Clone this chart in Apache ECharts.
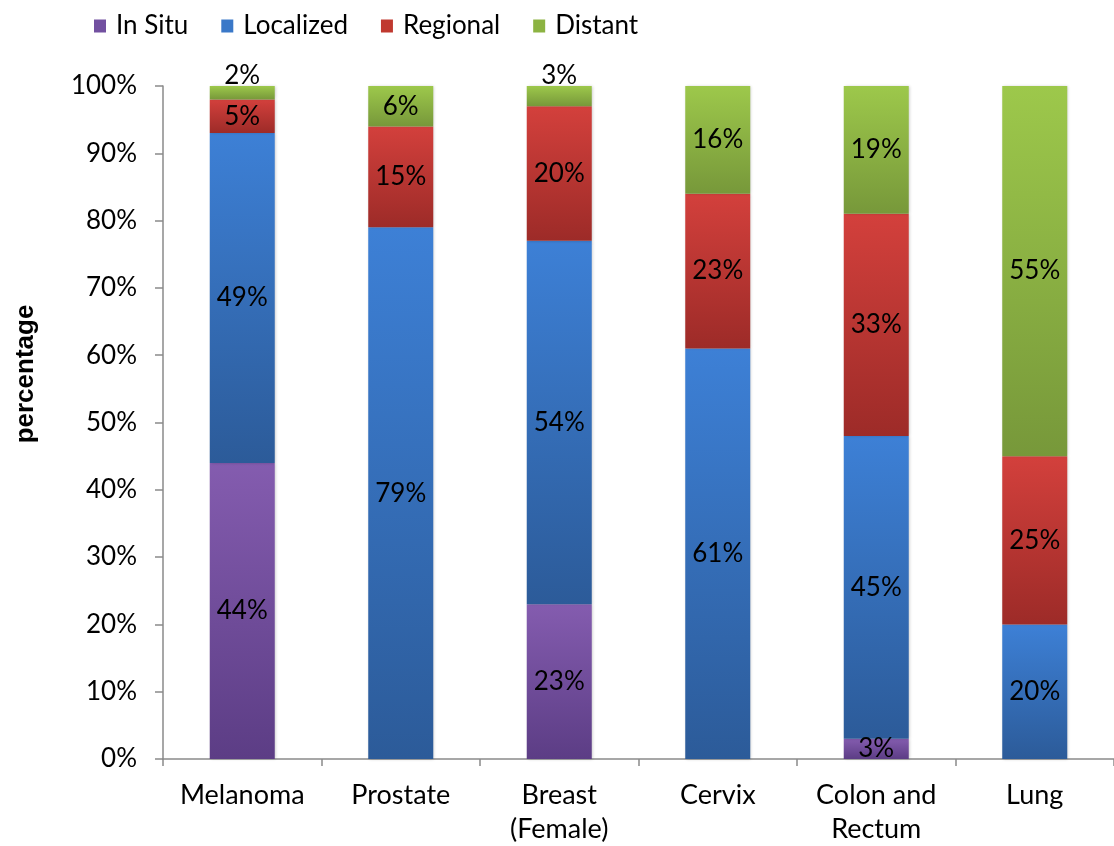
<!DOCTYPE html>
<html>
<head>
<meta charset="utf-8">
<title>Stage at diagnosis by cancer site</title>
<script src="https://cdn.jsdelivr.net/npm/echarts@6/dist/echarts.min.js"></script>
<style>
  html, body { margin: 0; padding: 0; background: #ffffff; }
  #chart { width: 1114px; height: 846px; }
</style>
</head>
<body>
<div id="chart"></div>
<script>
// Cancer sites along the x axis
const categories = ['Melanoma', 'Prostate', 'Breast\n(Female)', 'Cervix', 'Colon and\nRectum', 'Lung'];

// Share of cases by stage at diagnosis (percent)
const inSitu    = [44, 0, 23, 0, 3, 0];
const localized = [49, 79, 54, 61, 45, 20];
const regional  = [5, 15, 20, 23, 33, 25];
const distant   = [2, 6, 3, 16, 19, 55];

// Y axis tick values
const yTicks = [0, 10, 20, 30, 40, 50, 60, 70, 80, 90, 100];

const FONT = 'Lato, "Noto Sans", sans-serif';

// Vertical gradient per segment: lighter on top, darker at the bottom
function grad(top, bottom) {
  return new echarts.graphic.LinearGradient(0, 0, 0, 1, [
    { offset: 0, color: top },
    { offset: 1, color: bottom }
  ]);
}

const stages = [
  { name: 'In Situ',   data: inSitu,    top: '#845caf', bottom: '#5c3d85', legend: '#7250a0' },
  { name: 'Localized', data: localized, top: '#3d80d6', bottom: '#2c5b99', legend: '#3a78c8' },
  { name: 'Regional',  data: regional,  top: '#d3403c', bottom: '#9d2b28', legend: '#c0392f' },
  { name: 'Distant',   data: distant,   top: '#9dc84b', bottom: '#77983a', legend: '#8cb342' }
];

const series = stages.map((s, si) => ({
  name: s.name,
  type: 'bar',
  stack: 'total',
  barWidth: 65,
  itemStyle: {
    color: grad(s.top, s.bottom),
    shadowColor: 'rgba(0,0,0,0.22)',
    shadowBlur: 3,
    shadowOffsetX: 1
  },
  label: {
    show: true,
    position: 'inside',
    color: '#000',
    fontFamily: FONT,
    fontSize: 26,
    formatter: p => p.value + '%'
  },
  // Thin top segments carry their label just above the bar
  data: s.data.map(v => {
    if (v === 0) return { value: v, label: { show: false } };
    if (si === stages.length - 1 && v < 4) return { value: v, label: { position: 'top', distance: -3 } };
    return v;
  })
}));

const chart = echarts.init(document.getElementById('chart'), null, { renderer: 'canvas' });

chart.setOption({
  animation: false,
  backgroundColor: '#ffffff',
  color: stages.map(s => s.legend),
  legend: {
    left: 89,
    top: 8,
    itemWidth: 12,
    itemHeight: 13,
    itemGap: 33,
    icon: 'rect',
    textStyle: { fontFamily: FONT, fontSize: 26, color: '#000', padding: [0, 0, 0, 5] },
    data: stages.map(s => ({ name: s.name, itemStyle: { color: s.legend } }))
  },
  grid: { left: 163, top: 86, width: 960, height: 675, containLabel: false },
  xAxis: {
    type: 'category',
    data: categories,
    axisLine: { lineStyle: { color: '#8a8a8a', width: 1.5 } },
    axisTick: { show: true, length: 7, lineStyle: { color: '#8a8a8a', width: 1.5 } },
    axisLabel: {
      color: '#000',
      fontFamily: FONT,
      fontSize: 27,
      lineHeight: 34,
      margin: 19,
      interval: 0
    }
  },
  yAxis: {
    type: 'value',
    min: yTicks[0],
    max: yTicks[yTicks.length - 1],
    interval: yTicks[1] - yTicks[0],
    axisLine: { show: true, lineStyle: { color: '#8a8a8a', width: 1.5 } },
    axisTick: { show: true, length: 8, lineStyle: { color: '#8a8a8a', width: 1.5 } },
    splitLine: { show: false },
    axisLabel: {
      color: '#000',
      fontFamily: FONT,
      fontSize: 26,
      margin: 26,
      formatter: v => v + '%'
    }
  },
  graphic: [{
    type: 'text',
    x: 26,
    y: 374,
    rotation: Math.PI / 2,
    style: {
      text: 'percentage',
      font: 'bold 26px "Liberation Sans", Arial, sans-serif',
      fill: '#000',
      align: 'center',
      verticalAlign: 'middle'
    }
  }],
  series: series
});
</script>
</body>
</html>
